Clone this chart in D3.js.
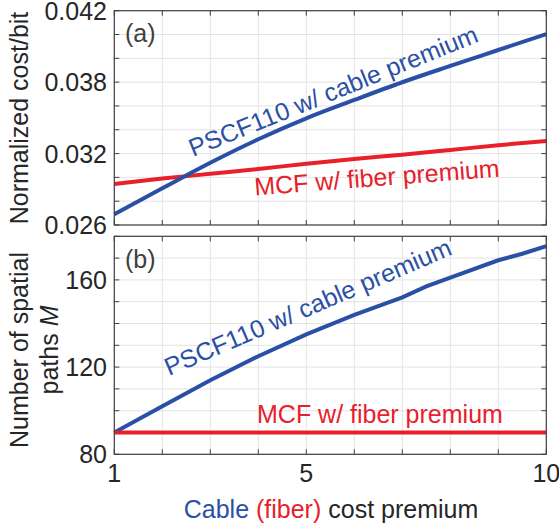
<!DOCTYPE html>
<html>
<head>
<meta charset="utf-8">
<script src="https://cdn.jsdelivr.net/npm/d3@7"></script>
<style>
  body { margin: 0; background: #fff; }
  text { font-family: "Liberation Sans", Arial, sans-serif; }
</style>
</head>
<body>
<script>
// cable (fiber) cost premium
const premium = [1, 2, 3, 4, 5, 6, 7, 8, 9, 10];
const premiumB = [1, 2, 3, 4, 5, 6, 7, 7.5, 8, 9, 9.5, 10];

// (a) normalized cost/bit
const costPSCF = [0.0269, 0.02908, 0.03123, 0.0332, 0.03496, 0.0365, 0.03799, 0.03936, 0.0407, 0.04204];
const costMCF = [0.02944, 0.0299, 0.0303, 0.0307, 0.03115, 0.03155, 0.0319, 0.0323, 0.0327, 0.03306];

// (b) number of spatial paths M
const pathsPSCF = [90, 102, 114, 125, 135, 144, 152, 157, 161, 169, 172, 175.5];
const pathsMCF = [90, 90, 90, 90, 90, 90, 90, 90, 90, 90];

const xTicks = [1, 5, 10];
const yTicksA = [0.026, 0.032, 0.038, 0.044];
const yTickLabelsA = ["0.026", "0.032", "0.038", "0.042"];
const yTicksB = [80, 120, 160];

const w = 559, h = 529;
const left = 114.3, right = 546.3;
const blue = "#2a50a6", red = "#e8202a", frameCol = "#404040", textCol = "#262626";
const fs = 25;

const svg = d3.select("body").append("svg")
  .attr("width", w)
  .attr("height", h);

const x = d3.scaleLinear().domain([1, 10]).range([left, right]);

function panel(top, bottom, yDomain, yGridN, ticks, labels, series, label, labelY, curve) {
  const y = d3.scaleLinear().domain(yDomain).range([bottom, top]);
  const g = svg.append("g");

  // grid
  g.selectAll(".gx").data(d3.range(1, 11))
    .enter().append("line")
    .attr("x1", d => x(d)).attr("x2", d => x(d))
    .attr("y1", top).attr("y2", bottom)
    .attr("stroke", "#e3e3e3").attr("stroke-width", 1);
  const gy = y.ticks(yGridN);
  g.selectAll(".gy").data(gy)
    .enter().append("line")
    .attr("x1", left).attr("x2", right)
    .attr("y1", d => y(d)).attr("y2", d => y(d))
    .attr("stroke", "#e3e3e3").attr("stroke-width", 1);

  // inner ticks on all four sides
  g.selectAll(".ty").data(gy).enter().append("path")
    .attr("d", d => `M${left},${y(d)}h5M${right},${y(d)}h-5`)
    .attr("stroke", frameCol);
  g.selectAll(".tx").data(d3.range(1, 11)).enter().append("path")
    .attr("d", d => `M${x(d)},${bottom}v-5M${x(d)},${top}v5`)
    .attr("stroke", frameCol);

  // lines
  const line = d3.line().x(d => x(d[0])).y(d => y(d[1])).curve(curve);
  series.forEach(s => {
    g.append("path")
      .datum(s.xs.map((v, i) => [v, s.ys[i]]))
      .attr("d", line)
      .attr("fill", "none")
      .attr("stroke", s.color)
      .attr("stroke-width", 4);
  });

  // frame
  g.append("rect")
    .attr("x", left).attr("y", top)
    .attr("width", right - left).attr("height", bottom - top)
    .attr("fill", "none").attr("stroke", frameCol).attr("stroke-width", 1.2);

  // y tick labels
  g.selectAll(".yl").data(ticks).enter().append("text")
    .attr("x", 107).attr("y", d => y(d))
    .attr("dy", "0.36em")
    .attr("text-anchor", "end")
    .attr("font-size", fs)
    .attr("fill", textCol)
    .text((d, i) => labels[i]);

  g.append("text")
    .attr("x", 125).attr("y", labelY)
    .attr("font-size", fs)
    .attr("fill", frameCol)
    .text(label);

  return y;
}

panel(10.7, 225, [0.026, 0.044], 9, yTicksA, yTickLabelsA, [
  { xs: premium, ys: costMCF, color: red },
  { xs: premium, ys: costPSCF, color: blue }
], "(a)", 42, d3.curveMonotoneX);

panel(236.3, 454.3, [80, 180], 10, yTicksB, yTicksB.map(String), [
  { xs: premiumB, ys: pathsPSCF, color: blue },
  { xs: premium, ys: pathsMCF, color: red }
], "(b)", 268, d3.curveLinear);

// x tick labels
svg.selectAll(".xl").data(xTicks).enter().append("text")
  .attr("x", d => x(d)).attr("y", 482)
  .attr("text-anchor", "middle")
  .attr("font-size", fs)
  .attr("fill", textCol)
  .text(d => d);

// annotations
function note(tx, ty, angle, txt, color) {
  svg.append("text")
    .attr("transform", `translate(${tx},${ty}) rotate(${angle})`)
    .attr("font-size", fs)
    .attr("fill", color)
    .text(txt);
}
note(193, 157, -22, "PSCF110 w/ cable premium", blue);
note(255, 195.5, -4.4, "MCF w/ fiber premium", red);
note(169, 376, -23.2, "PSCF110 w/ cable premium", blue);
note(257, 422.7, 0, "MCF w/ fiber premium", red);

// axis titles
svg.append("text")
  .attr("transform", "translate(28,118) rotate(-90)")
  .attr("text-anchor", "middle")
  .attr("font-size", fs)
  .attr("fill", textCol)
  .text("Normalized cost/bit");

svg.append("text")
  .attr("transform", "translate(28,350) rotate(-90)")
  .attr("text-anchor", "middle")
  .attr("font-size", fs)
  .attr("fill", textCol)
  .text("Number of spatial");

const t2 = svg.append("text")
  .attr("transform", "translate(58,350) rotate(-90)")
  .attr("text-anchor", "middle")
  .attr("font-size", fs)
  .attr("fill", textCol);
t2.append("tspan").text("paths ");
t2.append("tspan").attr("font-style", "italic").text("M");

const xt = svg.append("text")
  .attr("x", 331).attr("y", 518)
  .attr("text-anchor", "middle")
  .attr("font-size", fs)
  .attr("fill", textCol);
xt.append("tspan").attr("fill", blue).text("Cable ");
xt.append("tspan").attr("fill", red).text("(fiber)");
xt.append("tspan").text(" cost premium");
</script>
</body>
</html>
